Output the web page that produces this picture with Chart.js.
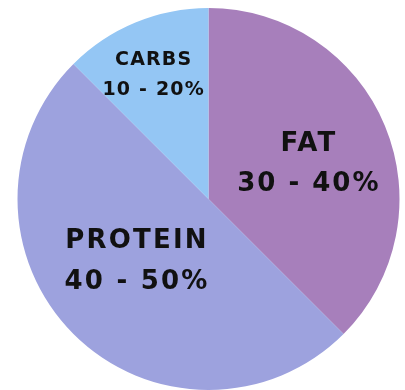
<!DOCTYPE html>
<html>
<head>
<meta charset="utf-8">
<script src="https://cdn.jsdelivr.net/npm/chart.js@4"></script>
<style>
  html, body { margin: 0; padding: 0; background: #fff; }
  #macros { display: block; }
</style>
</head>
<body>
<canvas id="macros" width="405" height="390"></canvas>
<script>
// ── Data ──────────────────────────────────────────────────────────────────────
const macros = ["FAT", "PROTEIN", "CARBS"];
const shares = [37.5, 50, 12.5];
const ranges = ["30 - 40%", "40 - 50%", "10 - 20%"];
const colors = ["#a77fbb", "#9da2de", "#94c6f4"];

// label placement, in units of the pie radius from its centre
const labelPos = [
  { dx: 0.52, dy: -0.18, size: 26, gap: 40, spacing: 2 },
  { dx: -0.38, dy: 0.33, size: 26, gap: 41, spacing: 2.2 },
  { dx: -0.29, dy: -0.65, size: 19, gap: 30, spacing: 1.2 }
];

// ── Slice labels ──────────────────────────────────────────────────────────────
const sliceLabels = {
  id: "sliceLabels",
  afterDatasetsDraw(chart) {
    const ctx = chart.ctx;
    const arcs = chart.getDatasetMeta(0).data;
    ctx.save();
    ctx.fillStyle = "#111";
    ctx.textAlign = "center";
    ctx.textBaseline = "middle";
    arcs.forEach((arc, i) => {
      const p = labelPos[i];
      // letterSpacing pads the right side too, so nudge back by half of it
      const x = arc.x + p.dx * arc.outerRadius + p.spacing / 2;
      const y = arc.y + p.dy * arc.outerRadius;
      ctx.font = `bold ${p.size}px "DejaVu Sans"`;
      ctx.letterSpacing = p.spacing + "px";
      ctx.fillText(macros[i], x, y - p.gap / 2);
      ctx.fillText(ranges[i], x, y + p.gap / 2);
    });
    ctx.restore();
  }
};

// ── Chart ─────────────────────────────────────────────────────────────────────
new Chart(document.getElementById("macros"), {
  type: "pie",
  data: {
    labels: macros,
    datasets: [{
      data: shares,
      backgroundColor: colors,
      borderWidth: 0
    }]
  },
  options: {
    responsive: false,
    animation: false,
    layout: { padding: { top: 8, bottom: 0, left: 16, right: 4 } },
    plugins: {
      legend: { display: false },
      tooltip: { enabled: false }
    }
  },
  plugins: [sliceLabels]
});
</script>
</body>
</html>
